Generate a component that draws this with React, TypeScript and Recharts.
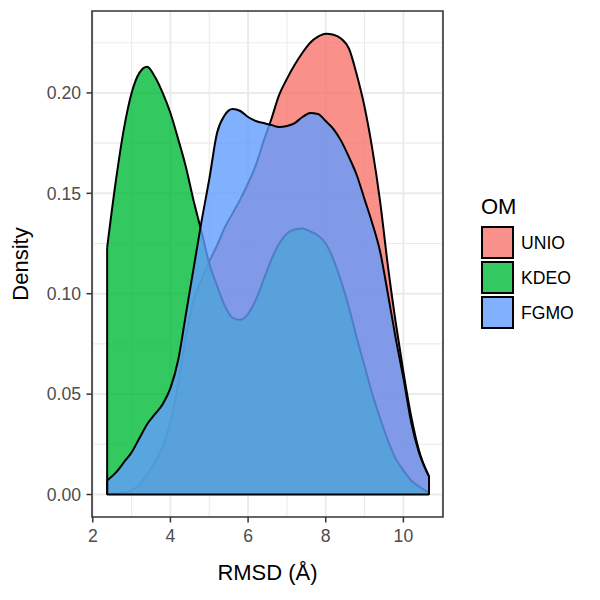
import { AreaChart, Area, XAxis, YAxis, CartesianGrid, ReferenceArea, ReferenceLine, Legend } from 'recharts';

const FONT = '"Liberation Sans", Arial, Helvetica, sans-serif';

// RMSD grid (Å) and density estimates per optimisation method
const rmsd = [
  2.37, 2.6, 2.8, 3.0, 3.2, 3.4, 3.6, 3.8, 4.0, 4.2, 4.4, 4.6, 4.8, 5.0,
  5.2, 5.4, 5.6, 5.8, 6.0, 6.2, 6.4, 6.6, 6.8, 7.0, 7.2, 7.4, 7.6, 7.8,
  8.0, 8.2, 8.4, 8.6, 8.8, 9.0, 9.2, 9.4, 9.6, 9.8, 10.0, 10.2, 10.4, 10.66,
];

const unio = [
  0.0003, 0.0005, 0.001, 0.002, 0.005, 0.01, 0.016, 0.024, 0.036, 0.055, 0.079, 0.097, 0.107, 0.116,
  0.124, 0.133, 0.14, 0.147, 0.155, 0.164, 0.176, 0.187, 0.199, 0.207, 0.214, 0.22, 0.225, 0.228,
  0.2295, 0.229, 0.227, 0.222, 0.209, 0.193, 0.172, 0.146, 0.114, 0.086, 0.061, 0.039, 0.022, 0.009,
];

const kdeo = [
  0.123, 0.157, 0.182, 0.2, 0.21, 0.213, 0.208, 0.2, 0.19, 0.177, 0.163, 0.146, 0.131, 0.115,
  0.104, 0.094, 0.088, 0.087, 0.09, 0.097, 0.107, 0.117, 0.125, 0.13, 0.132, 0.1325, 0.131, 0.129,
  0.125, 0.117, 0.106, 0.093, 0.078, 0.064, 0.05, 0.038, 0.027, 0.018, 0.012, 0.007, 0.004, 0.001,
];

const fgmo = [
  0.007, 0.011, 0.016, 0.021, 0.028, 0.035, 0.04, 0.045, 0.053, 0.067, 0.09, 0.113, 0.136, 0.157,
  0.18, 0.189, 0.192, 0.191, 0.188, 0.186, 0.185, 0.184, 0.183, 0.1835, 0.185, 0.188, 0.19, 0.1895,
  0.186, 0.182, 0.176, 0.168, 0.159, 0.147, 0.135, 0.121, 0.1, 0.078, 0.058, 0.036, 0.021, 0.009,
];

const xTicks = [2, 4, 6, 8, 10];
const xMinor = [3, 5, 7, 9, 11];
const yTicks = [0, 0.05, 0.1, 0.15, 0.2];
const yMinor = [0.025, 0.075, 0.125, 0.175, 0.225];

const xDomain = [1.98, 11.02];
const yDomain = [-0.0112, 0.2408];

const groups = [
  { key: 'UNIO', color: '#F8766D', values: unio },
  { key: 'KDEO', color: '#00BA38', values: kdeo },
  { key: 'FGMO', color: '#619CFF', values: fgmo },
];

const last = rmsd.length - 1;
const rows = rmsd.map((x, i) => ({ rmsd: x, UNIO: unio[i], KDEO: kdeo[i], FGMO: fgmo[i] }));

function XTitle({ viewBox }: any) {
  return (
    <text x={viewBox.x + viewBox.width / 2} y={viewBox.y + 62.5} textAnchor="middle"
      fontSize={22} fill="#000" fontFamily={FONT}>
      RMSD (Å)
    </text>
  );
}

function YTitle({ viewBox }: any) {
  const x = viewBox.x + 28;
  const y = viewBox.y + viewBox.height / 2;
  return (
    <text x={x} y={y} textAnchor="middle" transform={`rotate(-90, ${x}, ${y})`}
      fontSize={22} fill="#000" fontFamily={FONT}>
      Density
    </text>
  );
}

function KeyLegend() {
  return (
    <div style={{ position: 'relative', width: 110, height: 140, fontFamily: FONT, color: '#000' }}>
      <div style={{ position: 'absolute', left: 0, top: 0, fontSize: 22, lineHeight: '22px' }}>OM</div>
      {groups.map((g, i) => (
        <div key={g.key} style={{ position: 'absolute', left: 0, top: 30 + i * 35, display: 'flex', alignItems: 'center' }}>
          <div style={{ width: 33, height: 33, boxSizing: 'border-box', border: '2px solid #000', background: '#fff' }}>
            <div style={{ width: '100%', height: '100%', background: g.color, opacity: 0.8 }} />
          </div>
          <span style={{ marginLeft: 7, fontSize: 17.6, lineHeight: '20px' }}>{g.key}</span>
        </div>
      ))}
    </div>
  );
}

export default function App() {
  return (
    <div style={{ position: 'absolute', left: 0, top: 0, background: '#fff', fontFamily: FONT }}>
      <AreaChart width={600} height={600} data={rows} margin={{ top: 11, right: 157, bottom: 0, left: 0 }}>
        <CartesianGrid stroke="#EBEBEB" strokeWidth={1.1} horizontalValues={yMinor} verticalValues={xMinor} />
        <CartesianGrid stroke="#EBEBEB" strokeWidth={2} horizontalValues={yTicks} verticalValues={xTicks} />
        <XAxis dataKey="rmsd" type="number" domain={xDomain} ticks={xTicks} allowDataOverflow
          height={83} axisLine={false} tickSize={5.5} tickMargin={7}
          tickLine={{ stroke: '#333', strokeWidth: 1.5 }}
          tick={{ fontSize: 17.6, fill: '#4D4D4D', fontFamily: FONT }}
          label={<XTitle />} />
        <YAxis type="number" domain={yDomain} ticks={yTicks} allowDataOverflow
          width={92} axisLine={false} tickSize={5.5} tickMargin={5.5}
          tickLine={{ stroke: '#333', strokeWidth: 1.5 }}
          tick={{ fontSize: 17.6, fill: '#4D4D4D', fontFamily: FONT }}
          tickFormatter={(v: number) => v.toFixed(2)}
          label={<YTitle />} />
        {groups.map((g) => (
          <Area key={g.key} dataKey={g.key} type="monotone" baseValue={0}
            fill={g.color} fillOpacity={0.8} stroke="#000" strokeWidth={2}
            dot={false} activeDot={false} isAnimationActive={false} />
        ))}
        {/* closing edges of the density polygons */}
        {groups.map((g) => (
          <ReferenceLine key={`${g.key}-lo`} stroke="#000" strokeWidth={2}
            segment={[{ x: rmsd[0], y: 0 }, { x: rmsd[0], y: g.values[0] }]} />
        ))}
        {groups.map((g) => (
          <ReferenceLine key={`${g.key}-hi`} stroke="#000" strokeWidth={2}
            segment={[{ x: rmsd[last], y: 0 }, { x: rmsd[last], y: g.values[last] }]} />
        ))}
        <ReferenceLine segment={[{ x: rmsd[0], y: 0 }, { x: rmsd[last], y: 0 }]} stroke="#000" strokeWidth={2.2} />
        <ReferenceArea x1={xDomain[0]} x2={xDomain[1]} y1={yDomain[0]} y2={yDomain[1]}
          fill="none" stroke="#333" strokeWidth={1.6} />
        <Legend layout="vertical" align="center" verticalAlign="middle"
          wrapperStyle={{ left: 481, top: 196 }} content={() => <KeyLegend />} />
      </AreaChart>
    </div>
  );
}
